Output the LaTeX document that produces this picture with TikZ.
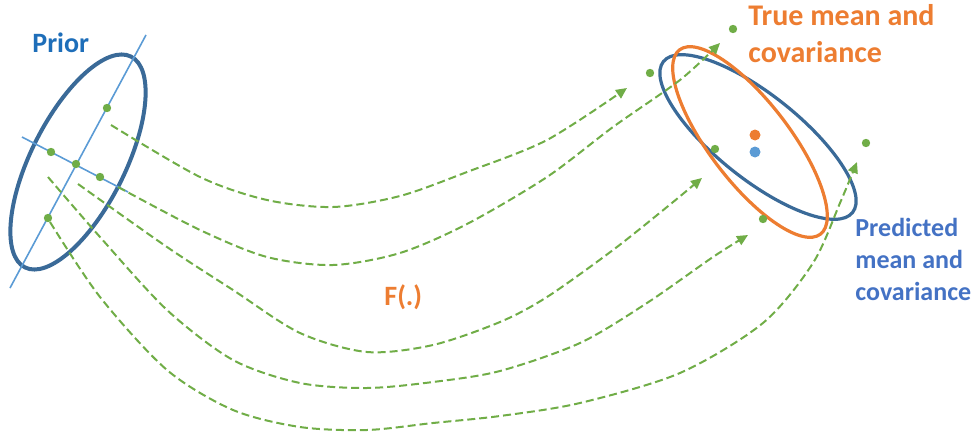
\documentclass[tikz,border=0pt]{standalone}
\usepackage{fontspec}
\setmainfont{Carlito}
\usetikzlibrary{arrows.meta}
\definecolor{pgreen}{RGB}{112,173,71}
\definecolor{porange}{RGB}{237,125,49}
\definecolor{pdark}{RGB}{58,106,152}
\definecolor{plight}{RGB}{91,155,213}
\definecolor{pprior}{RGB}{30,110,185}
\definecolor{ppred}{RGB}{68,114,196}
\begin{document}
\begin{tikzpicture}[x=0.5pt,y=-0.5pt,
  sigma/.style={circle,fill=pgreen,inner sep=0pt,minimum size=4.2pt},
  meanpt/.style={circle,inner sep=0pt,minimum size=5.5pt},
  flow/.style={pgreen,line width=1pt,dash pattern=on 4pt off 2pt,
    -{Triangle[length=5.5pt,width=5pt]}},
  lbl/.style={inner sep=0pt,anchor=base west,align=left}]
  \useasboundingbox (0,0) rectangle (976,439);
  % prior ellipse and its axes
  \draw[pdark,line width=2pt,rotate around={63.3:(78,162)}] (78,162) ellipse [x radius=118,y radius=47];
  \draw[plight,line width=0.8pt] (10,288) -- (146,35);
  \draw[plight,line width=0.8pt] (22,137) -- (128,192);
  \node[lbl,text=pprior,font=\fontsize{14pt}{17pt}\selectfont\bfseries] (prior) at (32,53) {Prior};
  % predicted and true ellipses
  \draw[pdark,line width=1.6pt,rotate around={-38.6:(758,137)}] (758,137) ellipse [x radius=121,y radius=42];
  \draw[porange,line width=1.6pt,rotate around={-52.6:(750,142)}] (750,142) ellipse [x radius=116,y radius=40];
  % base of a multi-line node is its last line
  \node[lbl,text=porange,font=\fontsize{15pt}{18.5pt}\selectfont\bfseries] (truelbl) at (748,62) {True mean and\\covariance};
  \node[lbl,text=ppred,font=\fontsize{13pt}{16pt}\selectfont\bfseries] (predlbl) at (855,300) {Predicted\\mean and\\covariance};
  \node[lbl,text=porange,font=\fontsize{14pt}{17pt}\selectfont\bfseries] (f) at (384,305) {F(.)};
  % start and end of each mapping
  \coordinate (sA) at (111,125); \coordinate (tA) at (627,88);
  \coordinate (sB) at (118,187); \coordinate (tB) at (720,43);
  \coordinate (sC) at (78,184);  \coordinate (tC) at (702,178);
  \coordinate (sD) at (48,177);  \coordinate (tD) at (748,235);
  \coordinate (sE) at (50,222);  \coordinate (tE) at (857,162);
  \draw[flow] plot[smooth] coordinates {(sA) (200,177) (267,200) (333,207) (400,196) (467,172) (547,140) (tA)};
  \draw[flow] plot[smooth] coordinates {(sB) (200,230) (267,257) (333,265) (400,253) (467,224) (547,177) (613,127) (680,80) (tB)};
  \draw[flow] plot[smooth] coordinates {(sC) (167,247) (233,290) (300,333) (367,352) (433,345) (500,322) (547,297) (613,250) (667,207) (tC)};
  \draw[flow] plot[smooth] coordinates {(sD) (100,237) (167,310) (233,360) (300,383) (367,388) (433,382) (500,371) (580,343) (647,303) (713,257) (tD)};
  \draw[flow] plot[smooth] coordinates {(sE) (100,297) (167,370) (233,410) (300,427) (367,430) (433,423) (500,416) (580,403) (680,373) (763,323) (813,263) (840,203) (tE)};
  % sigma points
  \node[sigma] (p1) at (107,108) {};
  \node[sigma] (p2) at (51,152) {};
  \node[sigma] (p3) at (76,164) {};
  \node[sigma] (p4) at (100,177) {};
  \node[sigma] (p5) at (48,218) {};
  \node[sigma] (q1) at (733,29) {};
  \node[sigma] (q2) at (650,73) {};
  \node[sigma] (q3) at (715,149) {};
  \node[sigma] (q4) at (866,143) {};
  \node[sigma] (q5) at (763,219) {};
  \node[meanpt,fill=porange] (mtrue) at (755,135) {};
  \node[meanpt,fill=plight] (mpred) at (755,152) {};
\end{tikzpicture}
\end{document}
